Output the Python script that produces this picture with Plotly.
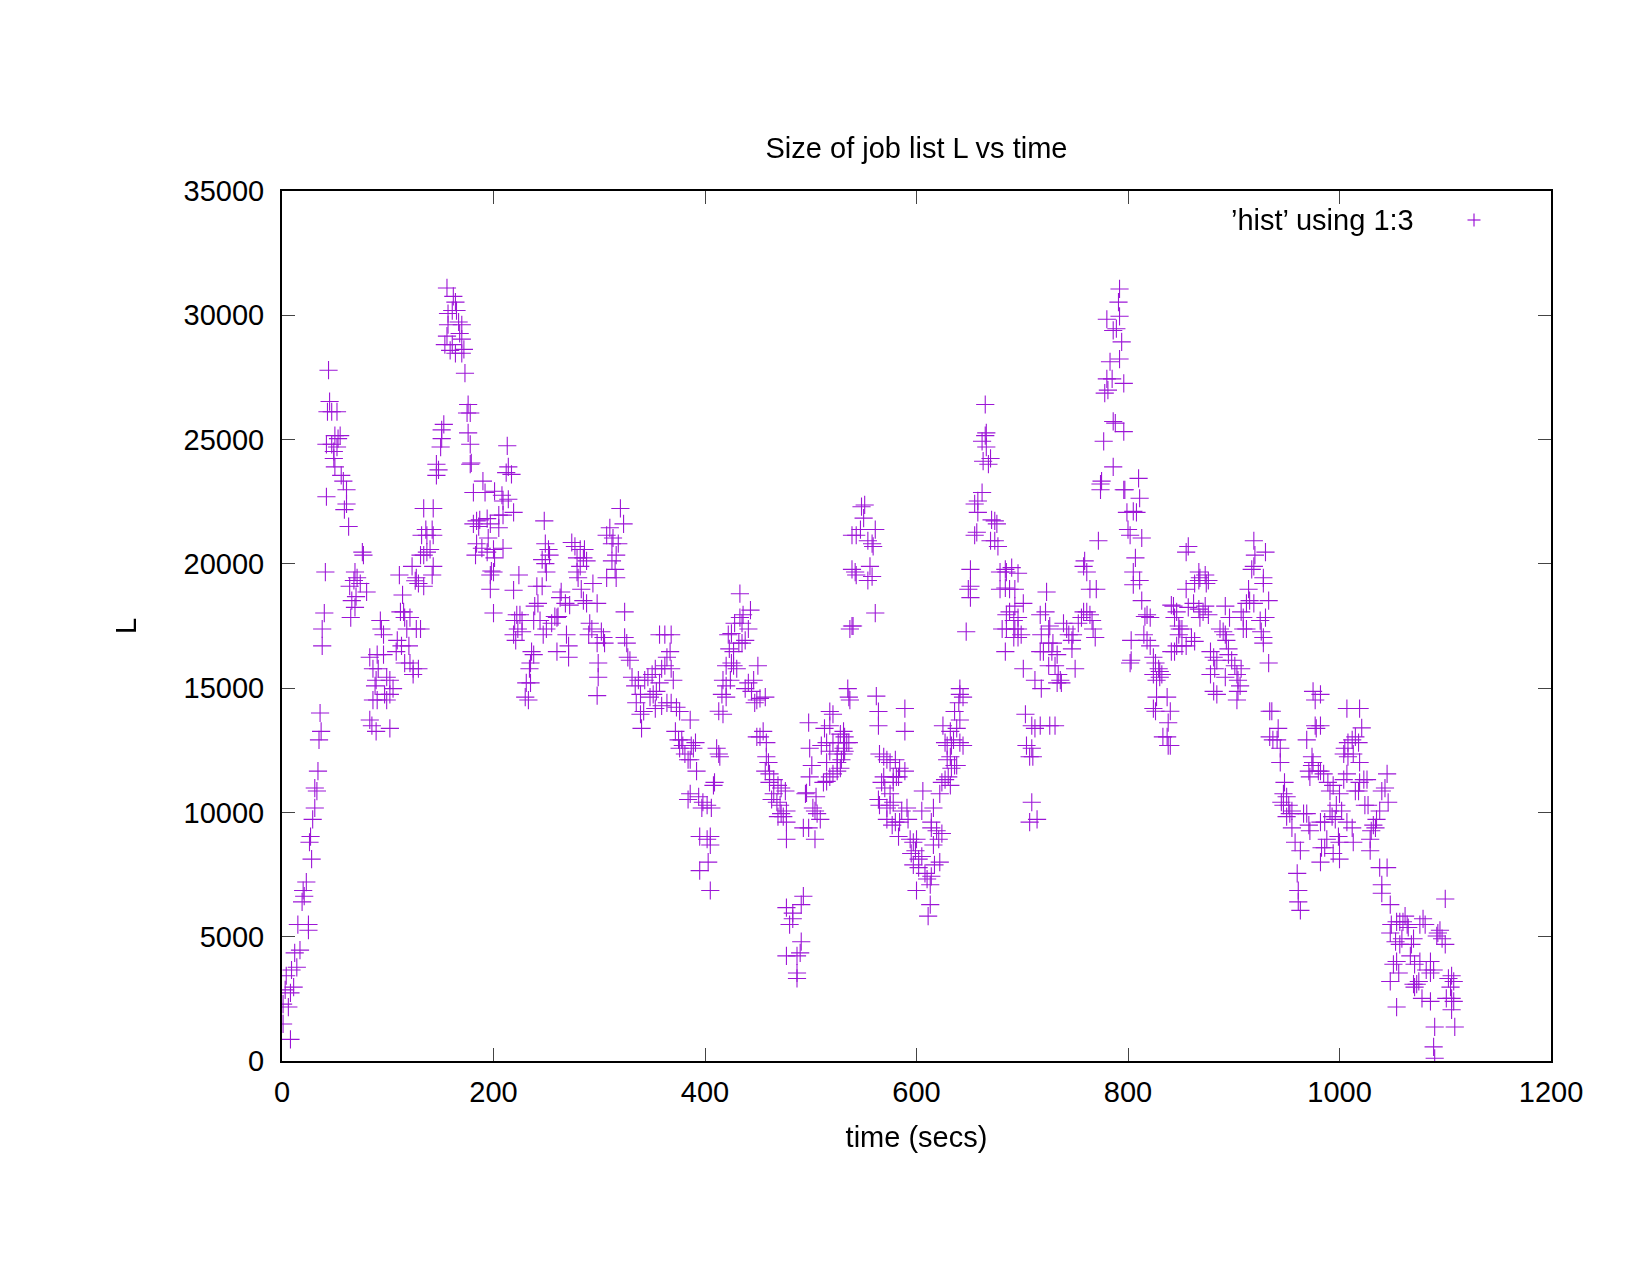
import plotly.graph_objects as go

# (time secs, L) readings from the reference, grouped by time window
pts_000_100 = [
    (1, 1490), (8, 870), (1, 2290), (6, 2170), (3, 2860), (8, 2740), (11, 2970), (4, 3430),
    (9, 3660), (14, 3770), (12, 4350), (17, 4460), (15, 5490), (25, 5490), (25, 5260),
    (19, 6400), (20, 6860), (21, 6630), (23, 7200), (28, 8120), (26, 8800), (27, 9030),
    (29, 9720), (31, 10180), (33, 10860), (31, 10980), (34, 11660), (35, 12920), (37, 13260),
    (36, 14000), (38, 16700), (38, 17380), (40, 18020), (41, 19670), (42, 22700), (44, 27790),
    (45, 26530), (47, 26120), (43, 26120), (52, 26120), (50, 25160), (53, 25040), (55, 25160),
    (42, 24810), (47, 24810), (49, 24520), (52, 24700), (50, 23900), (49, 24240), (56, 23560),
    (58, 23330), (61, 22980), (61, 22410), (59, 22180), (63, 21500), (76, 20470), (77, 20350),
    (69, 19670), (71, 19440), (74, 19210), (80, 18870), (68, 19330), (64, 19100), (66, 18520),
    (70, 18680), (69, 18250), (65, 17840), (93, 17720), (96, 17150), (94, 17380), (83, 16240),
    (90, 16350), (96, 16350), (86, 15780), (91, 15780), (89, 15320), (88, 15090), (99, 15440),
    (97, 14750), (86, 14520), (90, 14520), (99, 14520), (83, 13720), (85, 13490), (89, 13260),
]
pts_100_200 = [
    (102, 15320), (102, 14750), (105, 14980), (102, 13380), (111, 19550), (114, 18750),
    (112, 18070), (115, 18070), (116, 17840), (118, 17380), (121, 17840), (127, 17380),
    (131, 17380), (109, 16920), (108, 16470), (113, 16700), (116, 16010), (121, 16010),
    (120, 16700), (124, 15780), (129, 15780), (124, 15550), (134, 22230), (143, 22230),
    (136, 21380), (142, 21380), (137, 21150), (132, 21150), (143, 21150), (140, 20580),
    (137, 20470), (134, 20350), (131, 20350), (143, 19900), (142, 19550), (123, 19900),
    (126, 19320), (129, 19210), (134, 19100), (127, 19440), (146, 23560), (148, 23780),
    (146, 24010), (150, 24700), (151, 25040), (153, 25610), (151, 25390), (156, 31100),
    (162, 30760), (164, 30530), (157, 30070), (161, 30190), (165, 30190), (167, 29730),
    (170, 29620), (168, 29270), (170, 29040), (157, 29620), (156, 29160), (154, 28820),
    (159, 28590), (164, 28470), (161, 28820), (172, 28630), (170, 28470), (173, 27670),
    (176, 26410), (178, 26070), (175, 26070), (176, 25270), (178, 24810), (179, 24060),
    (178, 24010), (181, 22870), (184, 21730), (186, 21500), (181, 21610), (184, 20810),
    (183, 20350),
    (190, 23330), (192, 22870), (187, 21770), (194, 21820), (197, 21610), (195, 21040),
    (189, 20630), (194, 20470), (198, 19710), (197, 19550), (197, 18980),
]
pts_200_300 = [
    (213, 24750), (214, 23900), (212, 23670), (217, 23600), (201, 22920), (208, 22760),
    (209, 22530), (214, 22600), (205, 21960), (209, 21960), (219, 22070), (205, 21450),
    (200, 20580), (209, 20630), (201, 20240), (200, 19670), (200, 18020), (219, 18940),
    (224, 19550), (248, 21730), (249, 20810), (252, 20580), (253, 20350), (246, 20170),
    (249, 20010), (250, 19670), (241, 19100), (246, 19100), (242, 18410), (239, 18300),
    (244, 17720), (238, 17720), (236, 16470), (238, 16350), (235, 16010), (234, 15780),
    (231, 15210), (235, 15210), (230, 14640), (233, 14520), (222, 17950), (225, 17950),
    (227, 17720), (220, 17720), (223, 17380), (219, 17150), (221, 16920), (227, 17270),
    (258, 17880), (261, 17880), (260, 17840), (255, 17610), (250, 17380), (247, 17150),
    (264, 18870), (263, 18640), (268, 18410), (272, 18340), (269, 17150), (271, 16700),
    (260, 16470), (271, 16240), (274, 20860), (277, 20700), (282, 20580), (286, 20580),
    (279, 20240), (285, 20240), (282, 19900), (288, 20120), (279, 19670), (280, 19440),
    (283, 18980), (285, 18520), (288, 18410), (294, 19210), (298, 18410), (291, 17610),
    (293, 17380), (290, 17150), (298, 16810), (299, 16010), (299, 15440), (298, 14700),
]
pts_300_400 = [
    (302, 17270), (304, 17040), (305, 16810), (307, 21150), (310, 21450), (312, 20810),
    (313, 21040), (318, 20810), (320, 22230), (323, 21610), (312, 20120), (316, 20350),
    (315, 19780), (307, 19440), (316, 19440), (324, 18070), (324, 17040), (326, 16810),
    (327, 16240), (329, 16120), (331, 15440), (334, 15090), (337, 15320), (339, 14750),
    (335, 14410), (339, 13950), (342, 14060), (340, 13380), (343, 15320), (346, 15440),
    (350, 15550), (353, 15780), (348, 14640), (351, 14750), (354, 14870), (357, 15210),
    (359, 15780), (362, 15900), (364, 16240), (357, 17150), (362, 17150), (368, 17150),
    (367, 16470), (368, 15780), (370, 15320), (359, 14290), (353, 14180), (364, 14410),
    (368, 14410), (373, 14230), (376, 14060), (372, 13260), (375, 12920), (378, 12920),
    (376, 12580), (381, 12350), (384, 12120), (379, 12690), (384, 10520),
    (386, 13720), (387, 12690), (389, 12580), (391, 12810), (392, 11660), (386, 12120),
    (386, 10750), (394, 10630), (398, 10410), (397, 10180), (395, 9030), (395, 7660),
]
pts_400_500 = [
    (402, 10290), (406, 10180), (402, 8920), (405, 8690), (405, 9030), (403, 8000),
    (405, 6860), (409, 11210), (408, 11090), (413, 12350), (414, 12240), (411, 12580),
    (413, 14070), (417, 13950), (416, 14750), (420, 14640), (420, 15090), (417, 15320),
    (424, 15320), (420, 15900), (425, 16010), (427, 15900), (430, 15780), (423, 16580),
    (427, 16470), (422, 17150), (425, 17200), (432, 16810), (435, 16810), (438, 16920),
    (428, 17610), (435, 17610), (433, 17840), (436, 17950), (441, 17380), (433, 18800),
    (443, 18140), (450, 15900), (446, 15320), (441, 15210), (438, 14980), (444, 14870),
    (449, 14520), (447, 14410), (452, 14590), (457, 14640), (455, 13260), (452, 13040),
    (449, 13040), (458, 12810), (458, 12240), (460, 12010), (457, 11660), (461, 11550),
    (465, 11320), (461, 11210), (469, 11090), (472, 10980), (465, 10750), (463, 10520),
    (468, 10410), (476, 10860), (471, 10290), (472, 9950), (477, 10060), (474, 9830),
    (469, 9830), (477, 9610), (477, 8920), (493, 6630), (491, 6290), (477, 6170),
    (483, 5950), (480, 5490), (483, 5720), (491, 4800), (490, 4350), (487, 4230),
    (477, 4230), (487, 3540), (487, 3320), (493, 9380), (498, 9380), (496, 10790),
    (495, 10750), (499, 11430), (498, 13610),
]
pts_500_600 = [
    (504, 8920), (504, 10060), (506, 9950), (502, 10180), (509, 9720), (501, 11890),
    (499, 12580), (505, 10630), (512, 11210), (515, 11250), (518, 11430), (521, 11550),
    (525, 11660), (528, 11780), (515, 12010), (518, 12460), (525, 12350), (531, 12580),
    (510, 12690), (515, 12810), (521, 12810), (526, 12810), (534, 12810), (532, 13040),
    (528, 13150), (513, 13380), (518, 13490), (521, 13950), (518, 14060), (525, 12010),
    (529, 12120), (531, 12350), (532, 12460), (536, 12810), (531, 13260), (536, 14640),
    (537, 14520), (535, 14980), (539, 17500), (537, 17380), (540, 17500), (542, 19670),
    (543, 19550), (539, 19780), (543, 21150), (539, 21150), (547, 21380), (550, 21840),
    (548, 22300), (551, 22370), (554, 20930), (558, 20810), (559, 20700), (561, 21380),
    (556, 19900), (554, 19330), (558, 19490), (561, 18020), (562, 14680), (564, 14060),
    (564, 13490), (565, 12350), (569, 12240), (572, 12120), (575, 12010), (580, 12120),
    (581, 11430), (569, 11430), (567, 11210), (570, 10980), (575, 10750), (578, 11210),
    (578, 11430), (583, 11430), (564, 10520), (565, 10290), (572, 10180), (575, 10290),
    (578, 10410), (572, 9720), (577, 9490), (580, 9610), (583, 9030),
    (589, 14180), (589, 13260), (589, 11660), (584, 11780), (586, 10060), (591, 10180),
    (584, 9610), (592, 9720), (594, 8920), (597, 8800), (599, 8460), (595, 8350),
    (597, 7890),
]
pts_600_700 = [
    (600, 8920), (602, 8120), (605, 8230), (602, 7780), (608, 7550), (610, 7320),
    (613, 7090), (614, 7430), (600, 6860), (613, 6290), (611, 5830), (606, 10860),
    (616, 10180), (605, 10060), (614, 9610), (614, 9380), (619, 9260), (621, 8920),
    (616, 8690), (624, 9150), (617, 7890), (622, 8000), (622, 10750), (624, 11210),
    (627, 11320), (630, 11430), (632, 11090), (633, 11780), (629, 12120), (632, 12240),
    (636, 11890), (638, 11890), (629, 12690), (633, 12690), (635, 12920), (641, 12810),
    (644, 12690), (625, 13490), (632, 13260), (627, 12810), (638, 13380), (641, 13720),
    (636, 14060), (640, 14410), (641, 14750), (644, 14640), (641, 14980), (647, 17270),
    (651, 18640), (649, 18980), (651, 19100), (651, 19780), (655, 21150), (657, 21270),
    (655, 22410), (658, 22530), (662, 22870), (658, 22070), (663, 24130), (668, 24010),
    (670, 24240), (666, 24700), (662, 24930), (665, 25160), (666, 25270), (665, 26410),
    (671, 21770), (674, 21730), (676, 21610), (670, 20930), (674, 20930), (677, 20700),
    (679, 19670), (685, 19670), (684, 19780), (690, 19850), (696, 19620), (679, 18980),
    (684, 19030), (688, 18980), (693, 18980), (685, 17950), (688, 18070), (693, 18300),
    (692, 17720), (696, 17840), (681, 17380), (685, 17380), (693, 17380), (696, 17380),
    (692, 17040), (696, 17040), (699, 17150), (684, 16470),
]
pts_700_800 = [
    (701, 18410), (701, 15780), (703, 13950), (709, 12580), (704, 12690), (707, 12240),
    (710, 12240), (709, 13490), (712, 13380), (717, 13490), (726, 13490), (731, 13490),
    (709, 10410), (707, 9610), (714, 9720), (717, 17950), (722, 18070), (723, 18870),
    (725, 17380), (726, 17500), (718, 17150), (717, 16470), (720, 16470), (725, 16810),
    (729, 16810), (728, 16470), (733, 16350), (725, 15900), (731, 15900), (712, 15320),
    (718, 14980), (733, 15210), (736, 15320), (737, 15210), (734, 15550), (739, 17610),
    (742, 17380), (744, 17150), (747, 16920), (747, 16580), (750, 15780), (748, 17150),
    (753, 17610), (758, 18070), (756, 17840), (761, 18070), (764, 17950), (766, 17720),
    (767, 17380), (769, 17040), (764, 18980), (770, 18980), (758, 19900), (759, 20120),
    (761, 19670), (772, 20930), (774, 23210), (775, 23330), (774, 22980), (777, 24930),
    (780, 27440), (781, 26990), (778, 26870), (780, 29840),
    (792, 31060), (791, 30530), (792, 29960), (789, 29460), (786, 29390), (794, 28930),
    (792, 28240), (783, 28130), (785, 27440), (796, 27260), (786, 25730), (788, 25660),
    (796, 25320), (786, 23900), (797, 22980), (796, 22980), (799, 22070),
]
pts_800_900 = [
    (810, 23440), (811, 22640), (808, 22070), (805, 22110), (800, 21380), (802, 21150),
    (813, 21040), (807, 20240), (805, 19670), (805, 19160), (811, 19330), (813, 18520),
    (818, 17950), (816, 17880), (821, 17840), (815, 17150), (818, 16920), (821, 16700),
    (803, 16920), (803, 16120), (802, 16010), (824, 16240), (826, 16010), (829, 15780),
    (830, 15670), (832, 15550), (827, 15320), (824, 15550), (830, 15440), (827, 14640),
    (824, 14180), (826, 14070), (837, 14640), (840, 14070), (838, 13610), (833, 13040),
    (837, 13040), (838, 12690), (840, 12690), (841, 18340), (843, 18300), (846, 18070),
    (844, 17840), (848, 17500), (849, 17380), (848, 17150), (844, 16470), (841, 16470),
    (846, 16700), (851, 16700), (855, 16700), (851, 17380), (855, 18980), (857, 18250),
    (862, 18410), (867, 18180), (873, 18300), (855, 20470), (857, 20700), (863, 19210),
    (867, 19330), (868, 19440), (874, 19210), (867, 19670), (873, 19550), (876, 19330),
    (860, 17040), (863, 16880), (868, 17840), (871, 18070), (876, 17950), (878, 16470),
    (881, 16240), (884, 16120), (882, 15780), (878, 15550), (881, 14870), (884, 14750),
    (892, 15440), (887, 17380), (890, 17270), (892, 17150), (893, 16920), (895, 16580),
    (892, 18300), (896, 17840), (895, 16350), (898, 16120),
]
pts_900_1000 = [
    (901, 15900), (903, 15550), (904, 15320), (906, 15090), (904, 14870), (903, 14520),
    (907, 15780), (907, 18070), (909, 17840), (909, 17380), (912, 17380), (912, 18410),
    (915, 18520), (914, 18980), (919, 18410), (917, 19780), (919, 19900), (920, 20350),
    (919, 20930), (928, 19440), (930, 20470), (928, 19210), (933, 18520), (930, 17840),
    (925, 17720), (926, 17270), (928, 17040), (928, 16810), (933, 16010), (934, 14070),
    (936, 14070), (934, 13040), (937, 12920), (941, 12920), (942, 13380), (944, 12580),
    (944, 12010), (948, 11210), (947, 10750), (950, 10630), (945, 10410), (952, 10290),
    (953, 9950), (955, 10060), (947, 10290), (950, 9830), (955, 9380), (958, 8800),
    (963, 8460), (966, 9950), (969, 9950), (971, 9490), (972, 9260), (960, 7550),
    (961, 6860), (961, 6400), (963, 6060), (969, 12920), (975, 14870), (977, 14520),
    (977, 13490), (978, 13380), (974, 12240), (975, 12010), (974, 11890), (971, 11660),
    (972, 11430), (980, 11660), (982, 14750), (982, 13490), (982, 11660), (982, 9610),
    (982, 8000), (985, 11550), (989, 11210), (994, 11090), (991, 10860), (986, 9610),
    (993, 9830), (996, 9720), (997, 10290), (988, 8920), (999, 9030), (983, 8580),
    (986, 8580), (994, 8350), (991, 10060),
]
pts_1000_1110 = [
    (1000, 8120), (1007, 14180), (1019, 14180), (1021, 13400), (1015, 13040), (1012, 12920),
    (1008, 12810), (1018, 12810), (1005, 12580), (1004, 12350), (1008, 12240), (1013, 12350),
    (1019, 12010), (1007, 11550), (1004, 11320), (1015, 10860), (1018, 10860), (1019, 11210),
    (1023, 11320), (1026, 11320), (1024, 10290), (1027, 10290), (1000, 10750), (1002, 10060),
    (1012, 9380), (1013, 8800), (1000, 8800), (1007, 9610), (1040, 10860), (1045, 11550),
    (1043, 10980), (1046, 10410), (1038, 10060), (1035, 9720), (1032, 9490), (1030, 9260),
    (1034, 9380), (1029, 8920), (1029, 8460), (1038, 7780), (1045, 7780), (1040, 7090),
    (1040, 6750), (1048, 6290), (1049, 5490), (1048, 5150), (1054, 5600), (1057, 5600),
    (1060, 5600), (1064, 5490), (1065, 5370), (1062, 5830), (1059, 4920), (1053, 4800),
    (1057, 4690), (1068, 4690), (1070, 4920), (1076, 5490), (1079, 5720), (1081, 5490),
    (1067, 4230), (1071, 3890), (1076, 4000), (1054, 4000), (1051, 3890), (1056, 3540),
    (1048, 3200), (1070, 3090), (1073, 3090), (1075, 3200), (1071, 2970), (1086, 4000),
    (1082, 3660), (1086, 3540), (1089, 3660), (1078, 2520), (1086, 2400), (1054, 2170),
    (1092, 5030), (1093, 5150), (1095, 5260), (1097, 4920), (1100, 4690), (1100, 6520),
    (1103, 3320), (1106, 3430), (1105, 2970), (1108, 3200), (1101, 2520), (1106, 2520),
    (1108, 2400), (1106, 2060), (1109, 1370), (1090, 1370), (1089, 570), (1090, 110),
]

segments = [pts_000_100, pts_100_200, pts_200_300, pts_300_400, pts_400_500,
            pts_500_600, pts_600_700, pts_700_800, pts_800_900, pts_900_1000, pts_1000_1110]
all_pts = sorted(p for seg in segments for p in seg)
time_secs = [p[0] for p in all_pts]
L_values = [p[1] for p in all_pts]

x_ticks = [0, 200, 400, 600, 800, 1000, 1200]
y_ticks = [0, 5000, 10000, 15000, 20000, 25000, 30000, 35000]

TITLE = "Size of job list L vs time"
X_TITLE = "time (secs)"
Y_TITLE = "L"
LEGEND_TEXT = "\u2019hist\u2019 using 1:3"
PURPLE = "#9400D3"
FONT = "Liberation Sans, Arial, sans-serif"
FS = 29

fig = go.Figure()
fig.add_trace(go.Scatter(
    x=time_secs, y=L_values, mode="markers",
    marker=dict(symbol="cross-thin", size=13, line=dict(color=PURPLE, width=1.1), color=PURPLE),
    opacity=0.92, showlegend=False, hoverinfo="x+y",
))

W, H = 1650, 1275
ml, mr, mt, mb = 282, 99, 191, 214

axis_common = dict(
    showline=True, linecolor="black", linewidth=2, mirror="allticks",
    ticks="inside", ticklen=13, tickwidth=1, tickcolor="#444444",
    showgrid=False, zeroline=False,
    tickfont=dict(family=FONT, size=FS, color="black"),
)

fig.update_layout(
    width=W, height=H, autosize=False,
    margin=dict(l=ml, r=mr, t=mt, b=mb),
    paper_bgcolor="white", plot_bgcolor="white",
    font=dict(family=FONT, size=FS, color="black"),
    title=dict(text=TITLE, x=0.5, xref="paper", xanchor="center",
               y=1 - 148 / H, yref="container", yanchor="middle",
               font=dict(family=FONT, size=FS, color="black")),
    xaxis=dict(range=[0, 1200], tickvals=x_ticks, ticktext=[str(v) for v in x_ticks],
               ticklabelstandoff=4,
               title=dict(text=X_TITLE, standoff=20, font=dict(family=FONT, size=FS)),
               **axis_common),
    yaxis=dict(range=[0, 35000], tickvals=y_ticks, ticktext=[str(v) for v in y_ticks],
               ticklabelstandoff=10,
               title=dict(text=Y_TITLE, standoff=38, font=dict(family=FONT, size=FS)),
               **axis_common),
    showlegend=False,
)

# gnuplot-style key: text then sample symbol
fig.add_annotation(text=LEGEND_TEXT, xref="paper", yref="paper",
                   x=(1416 - ml) / (W - ml - mr), y=1 - (220 - mt) / (H - mt - mb),
                   xanchor="right", yanchor="middle", showarrow=False,
                   font=dict(family=FONT, size=FS, color="black"))
cx = (1474 - ml) / (W - ml - mr)
cy = 1 - (220 - mt) / (H - mt - mb)
dx = 6.5 / (W - ml - mr)
dy = 6.5 / (H - mt - mb)
fig.add_shape(type="line", xref="paper", yref="paper", x0=cx - dx, x1=cx + dx, y0=cy, y1=cy,
              line=dict(color=PURPLE, width=1.1))
fig.add_shape(type="line", xref="paper", yref="paper", x0=cx, x1=cx, y0=cy - dy, y1=cy + dy,
              line=dict(color=PURPLE, width=1.1))

fig.write_html("out.html")
